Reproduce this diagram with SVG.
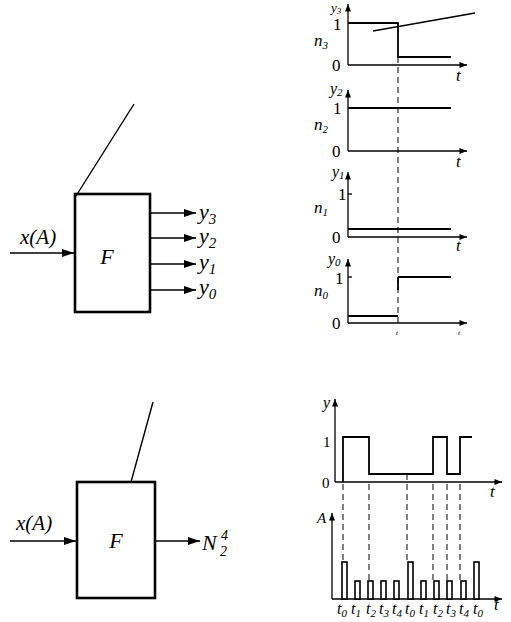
<svg xmlns="http://www.w3.org/2000/svg" width="511" height="622" viewBox="0 0 511 622">
<defs>
<marker id="ah" viewBox="0 0 12 8" refX="12" refY="4" markerWidth="12" markerHeight="8" markerUnits="userSpaceOnUse" orient="auto"><path d="M0,0 L12,4 L0,8 z" fill="#000"/></marker>
<marker id="sa" viewBox="0 0 10 8" refX="10" refY="4" markerWidth="8" markerHeight="6" markerUnits="userSpaceOnUse" orient="auto"><path d="M0,0 L10,4 L0,8 z" fill="#000"/></marker>
</defs>
<style>
.box{fill:#fff;stroke:#000;stroke-width:2.6}
.ln{fill:none;stroke:#000;stroke-width:1.4}
.ax{fill:none;stroke:#000;stroke-width:1.3}
.sg{fill:none;stroke:#000;stroke-width:1.8}
.ds{fill:none;stroke:#000;stroke-width:1;stroke-dasharray:6,4}
.pl{fill:#fff;stroke:#000;stroke-width:1.6}
text{font-family:"Liberation Serif","DejaVu Serif","Times New Roman",serif;fill:#000}
.it{font-style:italic}
</style>
<rect width="511" height="622" fill="#fff"/>

<g id="block1">
<rect class="box" x="75" y="194" width="75" height="118"/>
<text class="it" x="107" y="264" font-size="22" text-anchor="middle">F</text>
<text class="it" x="20" y="244" font-size="21">x(A)</text>
<text class="it" x="199" y="219" font-size="22">y<tspan font-size="15" dy="5">3</tspan></text>
<text class="it" x="199" y="243" font-size="22">y<tspan font-size="15" dy="5">2</tspan></text>
<text class="it" x="199" y="269" font-size="22">y<tspan font-size="15" dy="5">1</tspan></text>
<text class="it" x="199" y="294" font-size="22">y<tspan font-size="15" dy="5">0</tspan></text>
</g>

<g id="block2">
<rect class="box" x="77" y="482" width="78" height="116"/>
<text class="it" x="116" y="548" font-size="22" text-anchor="middle">F</text>
<text class="it" x="16" y="530" font-size="21">x(A)</text>
<text class="it" x="202" y="550" font-size="22">N</text>
<text class="it" x="220" y="556" font-size="14">2</text>
<text class="it" x="221" y="540" font-size="14">4</text>
</g>

<g id="connectors">
<line class="ln" x1="76" y1="196" x2="134" y2="104"/>
<line class="ln" x1="10" y1="253" x2="74" y2="253" marker-end="url(#ah)"/>
<line class="ln" x1="150" y1="213" x2="196" y2="213" marker-end="url(#ah)"/>
<line class="ln" x1="150" y1="238" x2="196" y2="238" marker-end="url(#ah)"/>
<line class="ln" x1="150" y1="264" x2="196" y2="264" marker-end="url(#ah)"/>
<line class="ln" x1="150" y1="290" x2="196" y2="290" marker-end="url(#ah)"/>
<line class="ln" x1="131" y1="482" x2="153" y2="402"/>
<line class="ln" x1="10" y1="541" x2="76" y2="541" marker-end="url(#ah)"/>
<line class="ln" x1="155" y1="541" x2="200" y2="541" marker-end="url(#ah)"/>
</g>

<g id="chart-y3">
<line class="ax" x1="348" y1="65" x2="348" y2="4" marker-end="url(#sa)"/>
<line class="ax" x1="348" y1="65" x2="467" y2="65" marker-end="url(#sa)"/>
<polyline class="sg" points="348,23 398,23 398,57 451,57"/>
<line class="ln" x1="373" y1="31" x2="475" y2="13"/>
<text class="it" x="331" y="12" font-size="13">y<tspan font-size="9" dy="2">3</tspan></text>
<text class="rm" x="333" y="30" font-size="17">1</text>
<text class="rm" x="332" y="71" font-size="17">0</text>
<text class="it" x="314" y="46" font-size="17">n<tspan font-size="11" dy="3">3</tspan></text>
<text class="it" x="456" y="81" font-size="17">t</text>
</g>

<g id="chart-y2">
<line class="ax" x1="348" y1="151" x2="348" y2="90" marker-end="url(#sa)"/>
<line class="ax" x1="348" y1="151" x2="467" y2="151" marker-end="url(#sa)"/>
<line class="sg" x1="348" y1="108" x2="451" y2="108"/>
<text class="it" x="330" y="94" font-size="16">y<tspan font-size="11" dy="2">2</tspan></text>
<text class="rm" x="333" y="114" font-size="17">1</text>
<text class="rm" x="332" y="157" font-size="17">0</text>
<text class="it" x="314" y="130" font-size="17">n<tspan font-size="11" dy="3">2</tspan></text>
<text class="it" x="456" y="167" font-size="17">t</text>
</g>

<g id="chart-y1">
<line class="ax" x1="348" y1="237" x2="348" y2="172" marker-end="url(#sa)"/>
<line class="ax" x1="348" y1="237" x2="467" y2="237" marker-end="url(#sa)"/>
<line class="ax" x1="348" y1="194" x2="352" y2="194"/>
<line class="sg" x1="348" y1="229" x2="451" y2="229"/>
<text class="it" x="332" y="177" font-size="16">y<tspan font-size="11" dy="2">1</tspan></text>
<text class="rm" x="338" y="200" font-size="17">1</text>
<text class="rm" x="332" y="243" font-size="17">0</text>
<text class="it" x="314" y="213" font-size="17">n<tspan font-size="11" dy="3">1</tspan></text>
<text class="it" x="456" y="251" font-size="17">t</text>
</g>

<g id="chart-y0">
<line class="ax" x1="348" y1="323" x2="348" y2="259" marker-end="url(#sa)"/>
<line class="ax" x1="348" y1="323" x2="467" y2="323" marker-end="url(#sa)"/>
<line class="ax" x1="348" y1="277" x2="352" y2="277"/>
<polyline class="sg" points="348,316 398,316"/>
<polyline class="sg" points="398,277 451,277"/>
<text class="it" x="328" y="264" font-size="16">y<tspan font-size="11" dy="2">0</tspan></text>
<text class="rm" x="335" y="284" font-size="17">1</text>
<text class="rm" x="332" y="329" font-size="17">0</text>
<text class="it" x="314" y="296" font-size="17">n<tspan font-size="11" dy="3">0</tspan></text>
<text class="it" x="396" y="335" font-size="7">t</text>
<text class="it" x="458" y="335" font-size="7">t</text>
</g>
<line class="ds" x1="398" y1="57" x2="398" y2="323"/>
<line class="sg" x1="398" y1="277" x2="398" y2="290"/>

<g id="chart-y">
<line class="ax" x1="335" y1="482" x2="335" y2="399" marker-end="url(#sa)"/>
<line class="ax" x1="335" y1="482" x2="502" y2="482" marker-end="url(#sa)"/>
<polyline class="sg" points="343,482 343,437 369,437 369,474 433,474 433,437 447,437 447,474 460,474 460,437 472,437"/>
<text class="it" x="323" y="408" font-size="16">y</text>
<text class="rm" x="323" y="447" font-size="15">1</text>
<text class="rm" x="322" y="488" font-size="15">0</text>
<text class="it" x="490" y="497" font-size="17">t</text>
</g>

<g id="chart-A">
<line class="ax" x1="332" y1="599" x2="332" y2="513" marker-end="url(#sa)"/>
<line class="ax" x1="332" y1="599" x2="502" y2="599" marker-end="url(#sa)"/>
<text class="it" x="317" y="523" font-size="15">A</text>
<rect class="pl" x="342" y="562" width="5" height="37"/>
<rect class="pl" x="355" y="581" width="5" height="18"/>
<rect class="pl" x="368" y="581" width="5" height="18"/>
<rect class="pl" x="381" y="581" width="5" height="18"/>
<rect class="pl" x="394" y="581" width="5" height="18"/>
<rect class="pl" x="408" y="562" width="5" height="37"/>
<rect class="pl" x="421" y="581" width="5" height="18"/>
<rect class="pl" x="434" y="581" width="5" height="18"/>
<rect class="pl" x="447" y="581" width="5" height="18"/>
<rect class="pl" x="461" y="581" width="5" height="18"/>
<rect class="pl" x="474" y="562" width="5" height="37"/>
<g font-size="16">
<text class="it" x="337" y="614">t<tspan font-size="11" dy="3">0</tspan></text>
<text class="it" x="351" y="614">t<tspan font-size="11" dy="3">1</tspan></text>
<text class="it" x="366" y="614">t<tspan font-size="11" dy="3">2</tspan></text>
<text class="it" x="379" y="614">t<tspan font-size="11" dy="3">3</tspan></text>
<text class="it" x="392" y="614">t<tspan font-size="11" dy="3">4</tspan></text>
<text class="it" x="405" y="614">t<tspan font-size="11" dy="3">0</tspan></text>
<text class="it" x="419" y="614">t<tspan font-size="11" dy="3">1</tspan></text>
<text class="it" x="433" y="614">t<tspan font-size="11" dy="3">2</tspan></text>
<text class="it" x="446" y="614">t<tspan font-size="11" dy="3">3</tspan></text>
<text class="it" x="459" y="614">t<tspan font-size="11" dy="3">4</tspan></text>
<text class="it" x="473" y="614">t<tspan font-size="11" dy="3">0</tspan></text>
</g>
<text class="it" x="494" y="610" font-size="17">t</text>
</g>

<g id="dashes">
<line class="ds" x1="343" y1="484" x2="343" y2="562"/>
<line class="ds" x1="369" y1="484" x2="369" y2="581"/>
<line class="ds" x1="407" y1="474" x2="407" y2="562"/>
<line class="ds" x1="433" y1="484" x2="433" y2="581"/>
<line class="ds" x1="447" y1="484" x2="447" y2="581"/>
<line class="ds" x1="460" y1="484" x2="460" y2="581"/>
</g>
</svg>
